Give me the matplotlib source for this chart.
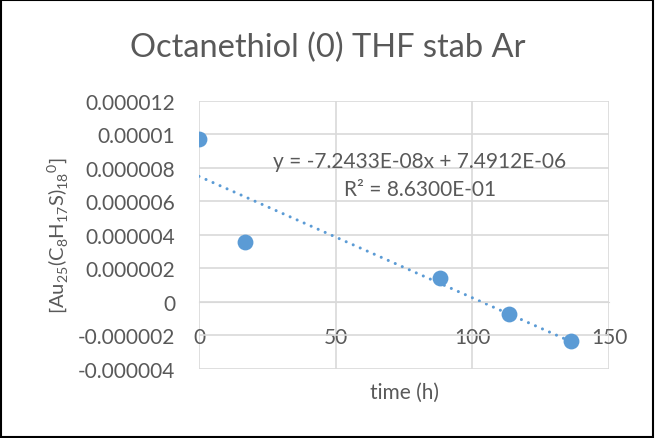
import matplotlib.pyplot as plt
from matplotlib.patches import Rectangle

plt.rcParams['font.family'] = ['Lato', 'DejaVu Sans']

# datos
time_h = [0, 17, 88, 113.5, 136]
conc = [9.7e-6, 3.6e-6, 1.4e-6, -0.7e-6, -2.33e-6]

# linea de tendencia (de la ecuacion mostrada)
slope = -7.2433e-08
intercept = 7.4912e-06
r2 = 0.863

xticks = [0, 50, 100, 150]
yticks = [-0.000004, -0.000002, 0, 0.000002, 0.000004, 0.000006, 0.000008, 0.00001, 0.000012]
ytick_labels = ['-0.000004', '-0.000002', '0', '0.000002', '0.000004',
                '0.000006', '0.000008', '0.00001', '0.000012']

gris = '#595959'
azul = '#5B9BD5'

fig = plt.figure(figsize=(6.55, 4.39), dpi=100)
ax = fig.add_axes([0.3038, 0.1572, 0.626, 0.611])

# tendencia punteada
tx = [0, max(time_h)]
ty = [slope * t + intercept for t in tx]
ax.plot(tx, ty, color=azul, lw=2.2, linestyle=(0, (0.01, 2.5)),
        dash_capstyle='round', zorder=2)

ax.scatter(time_h, conc, s=130, color=azul, zorder=3, linewidths=0)

ax.set_xlim(0, 150)
ax.set_ylim(-0.000004, 0.000012)
ax.set_xticks(xticks)
ax.set_yticks(yticks)
ax.set_yticklabels(ytick_labels)
ax.grid(True, color='#d9d9d9', lw=1.2)
ax.set_axisbelow(True)
for s in ['top', 'right', 'left']:
    ax.spines[s].set_visible(False)
ax.spines['bottom'].set_position(('data', 0))
ax.spines['bottom'].set_color('#d9d9d9')
ax.tick_params(axis='both', length=0, colors=gris, labelsize=15)
ax.tick_params(axis='y', pad=17)
ax.tick_params(axis='x', pad=18)

fig.text(0.5, 1 - 48 / 439, 'Octanethiol (0) THF stab Ar', fontsize=23.5, color=gris,
         ha='center', va='center')
ax.set_xlabel('time (h)', fontsize=15, color=gris, labelpad=25)
ax.set_ylabel(r'[Au$_{\mathregular{25}}$(C$_{\mathregular{8}}$H$_{\mathregular{17}}$S)$_{\mathregular{18}}$$^{\mathregular{0}}$]',
              fontsize=14.5, color=gris, labelpad=6)

ax.text(0.539, 0.775, 'y = -7.2433E-08x + 7.4912E-06', transform=ax.transAxes,
        ha='center', va='center', fontsize=15, color=gris)
ax.text(0.539, 0.67, 'R² = 8.6300E-01', transform=ax.transAxes,
        ha='center', va='center', fontsize=15, color=gris)

fig.patches.append(Rectangle((0.002, 0.003), 0.995, 0.994, transform=fig.transFigure,
                             fill=False, edgecolor='black', lw=1.5))

fig.savefig('out.png', dpi=100)
